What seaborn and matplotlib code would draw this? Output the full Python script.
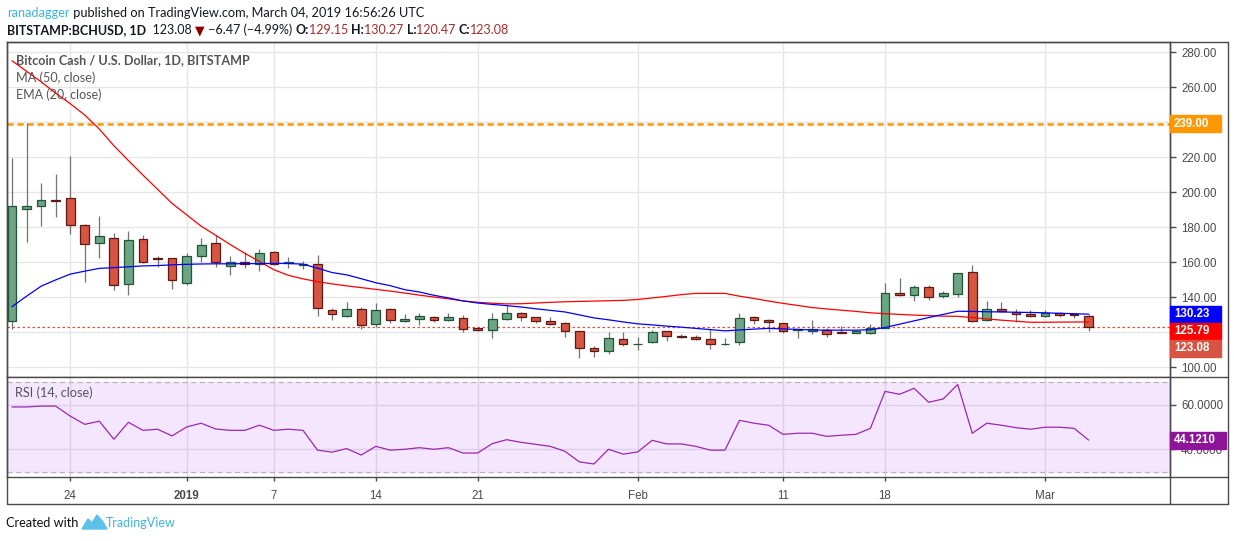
import numpy as np
import pandas as pd
import matplotlib
matplotlib.use("Agg")
import matplotlib.pyplot as plt
import matplotlib.dates as mdates
import seaborn as sns
from matplotlib.patches import Rectangle, Polygon
from matplotlib.lines import Line2D

# ---------------- data ----------------
dates = pd.date_range("2018-12-20", "2019-03-04", freq="D")
opens = [126.1, 190.5, 192.0, 195.3, 196.4, 181.0, 170.7, 173.5, 147.3, 173.0,
         162.3, 162.1, 147.8, 163.3, 170.7, 157.5, 159.8, 158.7, 165.5, 159.3,
         158.3, 158.7, 132.4, 129.0, 133.0, 124.4, 133.0, 126.1, 127.3, 128.4,
         126.7, 127.8, 122.3, 121.0, 127.3, 130.7, 128.4, 126.1, 125.0, 120.4,
         110.7, 109.0, 115.8, 112.9, 114.1, 120.4, 117.5, 117.0, 115.8, 112.9,
         114.1, 128.4, 126.7, 125.0, 121.0, 120.4, 121.0, 120.0, 119.6, 119.6,
         122.5, 142.1, 141.0, 145.5, 140.4, 141.5, 154.1, 126.7, 133.0, 131.2,
         130.1, 129.0, 130.7, 130.1, 129.15]
highs = [219.3, 239.3, 205.1, 210.3, 220.6, 181.5, 186.3, 176.6, 177.7, 175.3,
         163.4, 162.5, 165.0, 173.7, 175.3, 163.4, 165.5, 167.4, 166.3, 162.9,
         160.6, 164.0, 133.7, 137.1, 134.1, 136.6, 133.5, 130.3, 131.0, 129.1,
         131.0, 129.5, 122.6, 131.0, 135.2, 131.4, 128.8, 128.6, 125.7, 120.6,
         112.0, 120.0, 120.0, 117.0, 121.0, 120.8, 118.7, 118.1, 121.5, 116.4,
         130.9, 129.1, 127.4, 125.3, 121.8, 126.9, 122.1, 123.2, 121.0, 124.6,
         148.0, 150.7, 146.7, 146.7, 143.2, 153.5, 158.1, 137.5, 137.0, 133.0,
         132.4, 132.4, 131.2, 130.4, 130.27]
lows = [121.5, 171.6, 180.8, 185.9, 176.2, 148.8, 162.5, 144.0, 141.3, 159.5,
        157.0, 144.6, 147.0, 160.0, 157.0, 152.8, 156.4, 155.0, 158.2, 156.8,
        156.2, 129.3, 127.0, 128.6, 121.5, 122.9, 124.9, 125.6, 124.2, 125.5,
        126.2, 120.0, 120.4, 116.4, 127.0, 126.1, 125.3, 124.0, 117.3, 105.3,
        105.9, 107.6, 112.2, 109.7, 113.5, 115.0, 116.8, 115.5, 110.1, 112.6,
        112.7, 124.4, 120.2, 119.5, 116.8, 119.0, 117.3, 119.4, 119.2, 119.0,
        122.3, 140.4, 137.5, 138.1, 139.3, 139.9, 126.0, 126.5, 131.2, 125.5,
        128.4, 128.8, 128.8, 128.2, 120.47]
closes = [191.8, 192.0, 195.2, 194.8, 181.0, 170.1, 174.7, 146.7, 172.4, 159.8,
          161.7, 149.5, 163.3, 169.5, 159.8, 159.8, 158.7, 165.0, 158.7, 159.8,
          158.8, 133.5, 130.1, 133.0, 123.8, 132.4, 126.7, 127.3, 129.0, 126.7,
          128.4, 121.5, 121.0, 127.3, 130.7, 128.4, 126.1, 124.4, 120.4, 110.7,
          109.0, 116.4, 113.0, 113.3, 119.8, 117.5, 117.1, 115.8, 113.0, 113.3,
          127.8, 126.7, 125.5, 120.4, 121.5, 121.5, 119.0, 119.7, 120.4, 122.5,
          142.1, 141.0, 145.5, 139.9, 142.1, 153.5, 126.1, 133.0, 131.8, 130.1,
          129.0, 130.7, 129.9, 129.55, 123.08]
ma50 = [275.0, 269.0, 263.0, 256.5, 250.5, 244.0, 236.0, 226.5, 218.0, 209.7,
        201.6, 193.5, 187.0, 180.5, 175.3, 170.0, 165.0, 160.4, 155.6, 152.4,
        150.4, 148.8, 147.5, 146.4, 145.4, 144.4, 143.4, 142.3, 141.1, 140.0,
        139.0, 137.8, 137.0, 136.5, 136.1, 136.2, 136.6, 137.0, 137.3, 137.5,
        137.7, 137.9, 138.1, 138.6, 139.5, 140.4, 141.4, 142.1, 142.1, 142.1,
        140.5, 139.2, 137.7, 136.4, 135.2, 134.0, 133.2, 132.5, 131.8, 131.0,
        130.5, 130.1, 129.7, 129.4, 129.1, 129.0, 128.3, 127.5, 126.8, 126.2,
        125.6, 125.6, 125.7, 125.75, 125.79]
ema20 = [134.5, 140.5, 146.2, 149.8, 153.1, 154.8, 156.4, 156.8, 157.3, 157.8,
         158.0, 158.4, 158.7, 158.9, 159.0, 159.0, 159.1, 159.1, 159.2, 159.2,
         158.8, 156.5, 154.0, 152.7, 150.5, 148.2, 146.5, 144.2, 142.9, 141.0,
         139.5, 137.8, 136.6, 135.8, 135.1, 134.3, 133.3, 132.4, 131.5, 129.8,
         128.1, 127.0, 125.8, 124.7, 124.1, 123.4, 122.8, 122.1, 121.4, 120.7,
         121.2, 121.7, 122.1, 121.8, 121.5, 121.2, 121.1, 121.1, 121.1, 121.3,
         122.6, 124.5, 126.4, 128.3, 130.1, 131.9, 131.8, 131.6, 131.5, 131.3,
         131.2, 131.0, 130.7, 130.5, 130.23]
rsi = [59.0, 59.0, 59.4, 59.4, 54.9, 51.2, 52.6, 44.5, 52.1, 48.5,
       49.0, 46.0, 50.0, 51.7, 49.1, 48.5, 48.5, 50.8, 48.5, 49.0,
       48.5, 39.6, 38.7, 40.3, 37.4, 41.3, 39.6, 40.0, 40.7, 40.0,
       40.7, 38.3, 38.3, 42.5, 44.3, 43.1, 42.2, 41.3, 39.1, 34.3,
       33.4, 40.0, 37.8, 38.8, 44.0, 42.4, 42.4, 41.3, 39.6, 39.6,
       53.0, 51.7, 50.8, 46.7, 47.2, 47.2, 45.8, 46.3, 46.7, 49.4,
       66.0, 64.7, 67.4, 61.1, 62.6, 69.1, 47.2, 51.7, 50.8, 49.7,
       49.0, 49.9, 49.9, 49.4, 44.121]
resistance = 239.0
tick_dates = ["2018-12-24", "2019-01-01", "2019-01-07", "2019-01-14", "2019-01-21",
              "2019-02-01", "2019-02-11", "2019-02-18", "2019-03-01"]
tick_labels = ["24", "2019", "7", "14", "21", "Feb", "11", "18", "Mar"]
price_ticks = [100, 120, 140, 160, 180, 200, 220, 240, 260, 280]
rsi_ticks = [40, 60]

df = pd.DataFrame({"date": dates, "open": opens, "high": highs, "low": lows,
                   "close": closes, "ma50": ma50, "ema20": ema20, "rsi": rsi})

# ---------------- styling ----------------
sns.set_style("white")
plt.rcParams["font.family"] = ["Lato", "DejaVu Sans"]

W, H = 1234, 541
fig = plt.figure(figsize=(W / 100, H / 100), dpi=100)
renderer = fig.canvas.get_renderer()

def fx(x):
    return x / W

def fy(y):
    return 1 - y / H

L, R = 7, 1170
P_TOP, P_BOT, R_BOT, F_BOT, F_RIGHT = 41.7, 376.7, 477.3, 504, 1227.7
FRAME = "#4a4a4a"
GRID = "#e6e6e6"
TXT = "#4a4a4a"
AXFONT = ["Liberation Sans", "DejaVu Sans"]

ax = fig.add_axes([fx(L), fy(P_BOT), fx(R) - fx(L), fy(P_TOP) - fy(P_BOT)])
axr = fig.add_axes([fx(L), fy(R_BOT), fx(R) - fx(L), fy(P_BOT) - fy(R_BOT)], sharex=ax)

up = df["close"] >= df["open"]
UP_FILL, UP_EDGE = "#6ba583", "#225437"
DN_FILL, DN_EDGE = "#d75442", "#5b1a13"

# wicks
ax.vlines(df["date"], df["low"], df["high"], color="#737375", lw=0.9, zorder=2)
# bodies
body_lo = df[["open", "close"]].min(axis=1)
body_h = (df["close"] - df["open"]).abs()
ax.bar(df["date"][up], body_h[up], bottom=body_lo[up], width=0.6,
       color=UP_FILL, edgecolor=UP_EDGE, linewidth=0.9, zorder=3)
ax.bar(df["date"][~up], body_h[~up], bottom=body_lo[~up], width=0.6,
       color=DN_FILL, edgecolor=DN_EDGE, linewidth=0.9, zorder=3)

# moving averages
sns.lineplot(data=df, x="date", y="ma50", ax=ax, color="#ff0000", lw=0.9, zorder=4)
sns.lineplot(data=df, x="date", y="ema20", ax=ax, color="#0000ff", lw=0.9, zorder=4)

# horizontal lines
ax.axhline(resistance, color="#ff9800", ls=(0, (2.5, 1.5)), lw=1.8, zorder=1)
ax.axhline(closes[-1], color="#d75442", ls=(0, (2, 2)), lw=0.9, zorder=1)

x0 = mdates.date2num(dates[0]) - 0.344
x1 = mdates.date2num(dates[-1]) + 5.59
ax.set_xlim(x0, x1)
ax.set_ylim(94.5, 285.9)
ax.set_xlabel("")
ax.set_ylabel("")

tick_pos = [mdates.date2num(pd.Timestamp(d)) for d in tick_dates]
for a in (ax, axr):
    a.set_xticks(tick_pos)
    a.grid(True, color=GRID, lw=1)
    a.set_axisbelow(True)
    for s in a.spines.values():
        s.set_color(FRAME)
        s.set_linewidth(1)

ax.set_yticks(price_ticks)
ax.set_yticklabels([f"{v:.2f}" for v in price_ticks])
ax.yaxis.tick_right()
ax.tick_params(axis="y", which="both", right=True, length=4, width=1, color=FRAME,
               pad=4, labelsize=8.3, labelcolor=TXT)
ax.tick_params(axis="x", bottom=False, labelbottom=False)
for lab in ax.get_yticklabels():
    lab.set_family(AXFONT)

# RSI panel
axr.axhspan(30, 70, color="#f4e6ff", zorder=0)
axr.axhline(70, color="#b9b0c0", ls=(0, (4, 3)), lw=0.9, zorder=1)
axr.axhline(30, color="#b9b0c0", ls=(0, (4, 3)), lw=0.9, zorder=1)
sns.lineplot(data=df, x="date", y="rsi", ax=axr, color="#9c27b0", lw=0.9, zorder=4)
axr.set_ylim(27.4, 72.6)
axr.set_xlabel("")
axr.set_ylabel("")
axr.set_yticks(rsi_ticks)
axr.set_yticklabels([f"{v:.4f}" for v in rsi_ticks])
axr.yaxis.tick_right()
axr.grid(True, color="#dcd0e6", lw=1)
axr.tick_params(axis="y", right=True, length=4, width=1, color=FRAME, pad=4,
                labelsize=8.3, labelcolor=TXT)
axr.set_xticklabels(tick_labels)
axr.tick_params(axis="x", bottom=True, length=3, width=1, color=FRAME, pad=6,
                labelsize=8.3, labelcolor=TXT)
for lab in axr.get_yticklabels() + axr.get_xticklabels():
    lab.set_family(AXFONT)
for lab in axr.get_xticklabels():
    if lab.get_text() == "2019":
        lab.set_fontweight("bold")

# outer frame lines
def fline(xa, ya, xb, yb):
    fig.add_artist(Line2D([fx(xa), fx(xb)], [fy(ya), fy(yb)], color=FRAME, lw=1))

fline(L, P_TOP, F_RIGHT, P_TOP)
fline(F_RIGHT, P_TOP, F_RIGHT, F_BOT)
fline(L, F_BOT, F_RIGHT, F_BOT)
fline(L, P_TOP, L, F_BOT)
fline(R, P_TOP, R, F_BOT)
fline(R, P_BOT, F_RIGHT, P_BOT)
fline(R, R_BOT, F_RIGHT, R_BOT)

# value boxes on the right axis (they hide the tick labels they cover)
BOX_H = 17

def box(axis, val, text, color, below=None, width=51, h=BOX_H):
    yc = axis.transData.transform((0, val))[1]
    if below is not None:
        yc = min(yc, below - h)
    fig.add_artist(Rectangle((R / W, (yc - h / 2) / H), width / W, h / H,
                             transform=fig.transFigure, color=color, zorder=10))
    fig.text((R + 4) / W, yc / H, text, color="white", fontsize=8.3, fontweight="bold",
             va="center", ha="left", family=AXFONT, zorder=11)
    return yc

def hide_covered(axis, ticks, centers):
    labs = axis.get_yticklabels()
    for v, lab in zip(ticks, labs):
        ty = axis.transData.transform((0, v))[1]
        if any(abs(ty - c) < BOX_H * 0.9 for c in centers):
            lab.set_visible(False)

c0 = box(ax, resistance, f"{resistance:.2f}", "#ff9800")
b1 = box(ax, ema20[-1], f"{ema20[-1]:.2f}", "#0000ff")
b2 = box(ax, ma50[-1], f"{ma50[-1]:.2f}", "#ff0000", below=b1)
b3 = box(ax, closes[-1], f"{closes[-1]:.2f}", "#d75442", below=b2)
hide_covered(ax, price_ticks, [c0, b1, b2, b3])
box(axr, rsi[-1], f"{rsi[-1]:.4f}", "#8e1599", width=56)

# ---------------- texts ----------------
def fit_text(x, y, s, target, color, weight="normal", family=None):
    kw = dict(color=color, fontweight=weight, va="center", ha="left")
    if family:
        kw["family"] = family
    t = fig.text(fx(x), fy(y), s, fontsize=10, **kw)
    w = t.get_window_extent(renderer).width
    t.set_fontsize(10 * target / w)
    return t

def seq_text(x, y, parts, target):
    texts = []
    for s, color, weight in parts:
        t = fig.text(fx(x), fy(y), s, fontsize=10, color=color, fontweight=weight,
                     va="center", ha="left", family=["Lato", "DejaVu Sans"])
        texts.append(t)
    total = sum(t.get_window_extent(renderer).width for t in texts)
    size = 10 * target / total
    cx = x
    for t in texts:
        t.set_fontsize(size)
        t.set_x(fx(cx))
        cx += t.get_window_extent(renderer).width
    return texts

DARK = "#131722"
VAL = "#a52a2a"
seq_text(7, 13, [("ranadagger", "#3bb3e4", "normal"),
                 (" published on TradingView.com, March 04, 2019 16:56:26 UTC", DARK, "normal")], 416)
chg = closes[-1] - closes[-2]
seq_text(7, 30, [("BITSTAMP:BCHUSD, 1D", DARK, "bold"),
                 (f"  {closes[-1]:.2f} ", DARK, "normal"),
                 ("\u25bc", "#8b0000", "normal"),
                 (f" \u2212{abs(chg):.2f} (\u2212{abs(chg) / closes[-2] * 100:.2f}%) ", DARK, "normal"),
                 ("O:", DARK, "bold"), (f"{opens[-1]:.2f} ", VAL, "normal"),
                 ("H:", DARK, "bold"), (f"{highs[-1]:.2f} ", VAL, "normal"),
                 ("L:", DARK, "bold"), (f"{lows[-1]:.2f} ", VAL, "normal"),
                 ("C:", DARK, "bold"), (f"{closes[-1]:.2f}", VAL, "normal")], 503)

fit_text(15.7, 60, "Bitcoin Cash / U.S. Dollar, 1D, BITSTAMP", 235, "#555555", "bold")
fit_text(15.7, 78, "MA (50, close)", 79, "#555555")
fit_text(15.7, 95, "EMA (20, close)", 86, "#555555")
fit_text(15, 393, "RSI (14, close)", 78, "#555555")

fit_text(6, 523, "Created with", 73, "#111111")
fit_text(106, 523, "TradingView", 70, "#3bb3e4")
logo = [(82, 529), (88, 519), (92, 523), (97, 515), (103, 522), (107, 529)]
fig.add_artist(Polygon([(fx(a), fy(b)) for a, b in logo], closed=True,
                       transform=fig.transFigure, color="#5bc0ea"))

fig.savefig("out.png", dpi=100)
